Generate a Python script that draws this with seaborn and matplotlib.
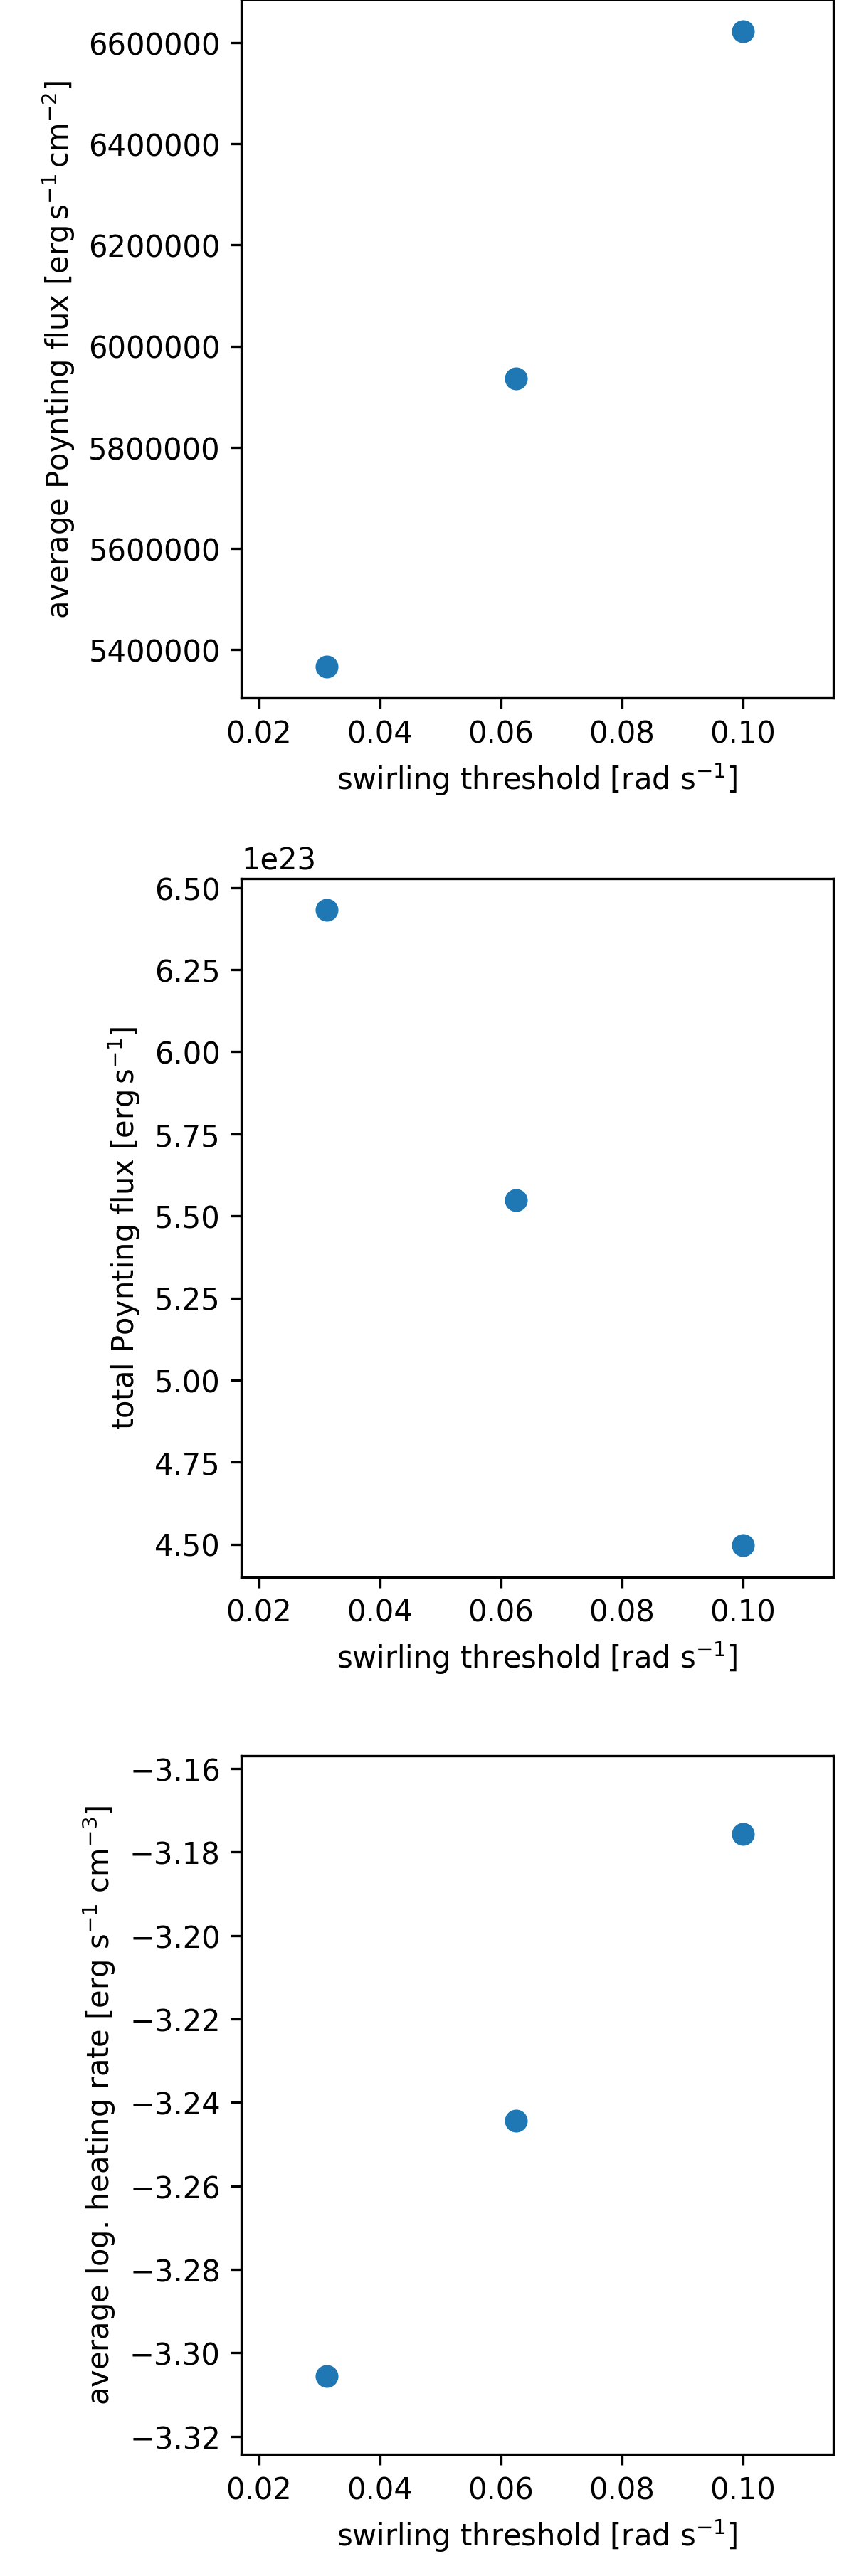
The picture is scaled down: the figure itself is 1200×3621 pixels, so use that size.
import matplotlib
matplotlib.use("Agg")
import matplotlib.pyplot as plt
import seaborn as sns
import pandas as pd

# swirling thresholds (rad/s) and the three measured quantities
thresholds = [0.03125, 0.0625, 0.1]
avg_poynting = [5367000, 5936000, 6622600]          # erg s^-1 cm^-2
total_poynting = [6.432e23, 5.548e23, 4.4965e23]    # erg s^-1
avg_log_heating = [-3.3056, -3.2444, -3.1756]       # log erg s^-1 cm^-3

df = pd.DataFrame({
    'threshold': thresholds,
    'avg_poynting': avg_poynting,
    'total_poynting': total_poynting,
    'avg_log_heating': avg_log_heating,
})

xlabel = r"swirling threshold [rad s$^{-1}$]"
panels = [
    ('avg_poynting', r"average Poynting flux [erg$\,$s$^{-1}\,$cm$^{-2}$]"),
    ('total_poynting', r"total Poynting flux [erg$\,$s$^{-1}$]"),
    ('avg_log_heating', r"average log. heating rate [erg s$^{-1}$ cm$^{-3}$]"),
]

fig = plt.figure(figsize=(4, 12.073), dpi=300)
bottoms = [0.7288, 0.3877, 0.0472]

for (col, ylabel), b in zip(panels, bottoms):
    ax = fig.add_axes([0.2825, b, 0.6931, 0.2712])
    sns.scatterplot(data=df, x='threshold', y=col, ax=ax, s=70, color='#1f77b4')
    ax.set_xlim(0.0171, 0.1149)
    ax.set_xticks([0.02, 0.04, 0.06, 0.08, 0.10])
    ax.set_xlabel(xlabel)
    ax.set_ylabel(ylabel)
    if col == 'avg_poynting':
        ax.ticklabel_format(axis='y', style='plain', useOffset=False)
    if col == 'avg_log_heating':
        ax.set_ylim(-3.3243, -3.1569)

fig.savefig("out.png", dpi=300)
plt.close(fig)
